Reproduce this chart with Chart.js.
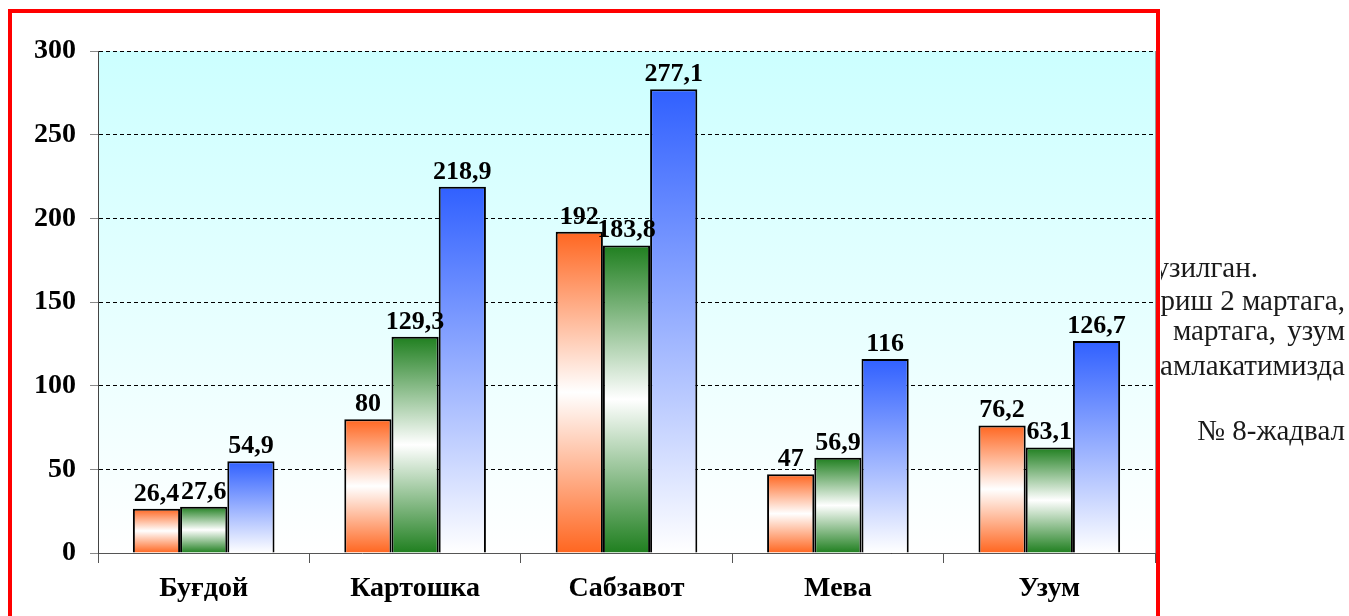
<!DOCTYPE html>
<html>
<head>
<meta charset="utf-8">
<script src="https://cdn.jsdelivr.net/npm/chart.js@4.4.0/dist/chart.umd.min.js"></script>
<style>
  html, body { margin: 0; padding: 0; background: #fff; overflow: hidden; }
  #wrap { position: absolute; left: 0; top: 0; width: 1349px; height: 616px; }
  #frame { position: absolute; left: 8px; top: 9px; width: 1144px; height: 640px;
           border: 4px solid #ff0000; pointer-events: none; }
  #side { position: absolute; left: 1161px; top: 0; width: 188px; height: 616px; overflow: hidden;
          font-family: "Liberation Serif", "Times New Roman", serif; font-size: 29px; color: #1a1a1a; }
  #side span { position: absolute; white-space: pre; line-height: 32px; }
</style>
</head>
<body>
<div id="wrap">
  <canvas id="insertchart" width="1349" height="616"></canvas>
  <div id="frame"></div>
  <div id="side">
    <span style="right:91px; top:251px;">тузилган.</span>
    <span style="right:4px; top:284px;">ошириш 2 мартага,</span>
    <span style="right:4px; top:314px; word-spacing:4px;">мартага, узум</span>
    <span style="right:4px; top:349px;">мамлакатимизда</span>
    <span style="right:4px; top:414px;">№ 8-жадвал</span>
  </div>
</div>
<script>
var categories = ["Буғдой", "Картошка", "Сабзавот", "Мева", "Узум"];
var orangeValues = [26.4, 80, 192, 47, 76.2];
var greenValues = [27.6, 129.3, 183.8, 56.9, 63.1];
var blueValues = [54.9, 218.9, 277.1, 116, 126.7];
var yTicks = [0, 50, 100, 150, 200, 250, 300];

var serif = '"Liberation Serif", "Times New Roman", serif';

// gradient from top of bar to bottom of bar
function barGradient(stops) {
  return function(c) {
    var chart = c.chart;
    if (!chart.chartArea || c.type !== 'data') return stops[0][1];
    var y = chart.scales.y;
    var top = y.getPixelForValue(c.raw);
    var bot = y.getPixelForValue(0);
    if (!isFinite(top) || !isFinite(bot) || top === bot) return stops[0][1];
    var g = chart.ctx.createLinearGradient(0, top, 0, bot);
    stops.forEach(function(s) { g.addColorStop(s[0], s[1]); });
    return g;
  };
}

var plotBackground = {
  id: 'plotBackground',
  beforeDraw: function(chart) {
    var a = chart.chartArea, ctx = chart.ctx;
    var g = ctx.createLinearGradient(0, a.top, 0, a.bottom);
    g.addColorStop(0, '#ccffff');
    g.addColorStop(1, '#ffffff');
    ctx.save();
    ctx.fillStyle = g;
    ctx.fillRect(a.left, a.top, a.right - a.left, a.bottom - a.top);
    ctx.strokeStyle = '#9a9a9a';
    ctx.lineWidth = 1;
    ctx.beginPath();
    ctx.moveTo(a.right + 0.5, a.top);
    ctx.lineTo(a.right + 0.5, a.bottom + 8);
    ctx.stroke();
    ctx.restore();
  }
};

var valueLabels = {
  id: 'valueLabels',
  afterDatasetsDraw: function(chart) {
    var ctx = chart.ctx;
    ctx.save();
    ctx.font = 'bold 26px ' + serif;
    ctx.fillStyle = '#000';
    ctx.textAlign = 'center';
    ctx.textBaseline = 'alphabetic';
    chart.data.datasets.forEach(function(ds, i) {
      chart.getDatasetMeta(i).data.forEach(function(bar, j) {
        ctx.fillText(String(ds.data[j]).replace('.', ','), bar.x, bar.y - 8);
      });
    });
    ctx.restore();
  }
};

var ctx = document.getElementById("insertchart").getContext('2d');
var myBarChart = new Chart(ctx, {
  type: 'bar',
  data: {
    labels: categories,
    datasets: [{
      label: "1",
      data: orangeValues,
      backgroundColor: barGradient([[0, '#ff6620'], [0.5, '#ffffff'], [1, '#ff6620']]),
      borderColor: '#000',
      borderWidth: 2
    }, {
      label: "2",
      data: greenValues,
      backgroundColor: barGradient([[0, '#1f7f1f'], [0.5, '#ffffff'], [1, '#1f7f1f']]),
      borderColor: '#000',
      borderWidth: 2
    }, {
      label: "3",
      data: blueValues,
      backgroundColor: barGradient([[0, '#3060ff'], [1, '#ffffff']]),
      borderColor: '#000',
      borderWidth: 2
    }]
  },
  options: {
    responsive: false,
    animation: false,
    layout: { padding: { left: 0, top: 51, right: 194, bottom: 0 } },
    categoryPercentage: 0.67,
    barPercentage: 1,
    plugins: { legend: { display: false }, tooltip: { enabled: false } },
    scales: {
      x: {
        grid: { display: true, offset: true, drawOnChartArea: false, tickLength: 10, tickColor: '#555' },
        border: { display: true, color: '#555', width: 1 },
        ticks: { color: '#000', font: { family: serif, size: 28, weight: 'bold' }, padding: 9 },
        afterFit: function(s) { s.height = 63; }
      },
      y: {
        min: 0, max: 300,
        afterBuildTicks: function(s) { s.ticks = yTicks.map(function(v) { return { value: v }; }); },
        grid: { color: '#000', lineWidth: 1, tickLength: 8, tickColor: '#888', tickBorderDash: [] },
        border: { display: true, color: '#444', width: 1, dash: [4, 3] },
        ticks: { color: '#000', font: { family: serif, size: 28, weight: 'bold' }, padding: 14 },
        afterFit: function(s) { s.width = 98; }
      }
    }
  },
  plugins: [plotBackground, valueLabels]
});
</script>
</body>
</html>
